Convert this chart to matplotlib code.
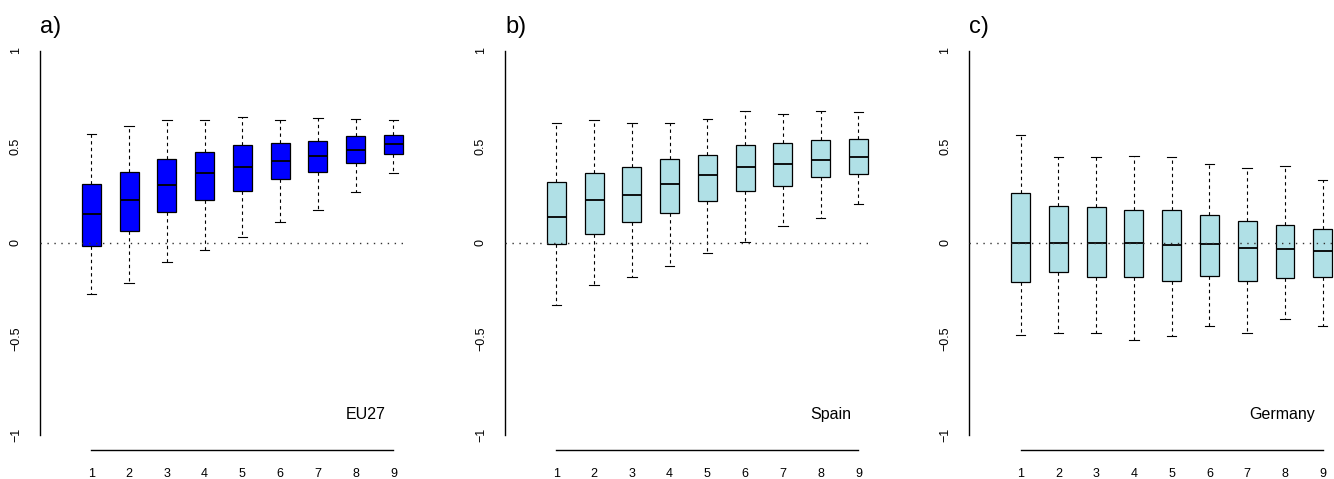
import numpy as np
import matplotlib
matplotlib.use('Agg')
import matplotlib.pyplot as plt

plt.rcParams['font.family'] = ['Liberation Sans', 'DejaVu Sans']

posicoes = [1, 2, 3, 4, 5, 6, 7, 8, 9]
rotulos_x = ['1', '2', '3', '4', '5', '6', '7', '8', '9']
ticks_y = [-1, -0.5, 0, 0.5, 1]
rotulos_y = ['\u22121', '\u22120.5', '0', '0.5', '1']

# a) EU27
eu_wlo = [-0.269, -0.212, -0.101, -0.038, 0.031, 0.106, 0.172, 0.262, 0.361]
eu_q1 = [-0.019, 0.059, 0.160, 0.224, 0.271, 0.333, 0.368, 0.415, 0.460]
eu_med = [0.147, 0.220, 0.302, 0.364, 0.394, 0.427, 0.451, 0.482, 0.512]
eu_q3 = [0.307, 0.369, 0.434, 0.472, 0.507, 0.517, 0.531, 0.553, 0.562]
eu_whi = [0.565, 0.609, 0.638, 0.638, 0.657, 0.637, 0.647, 0.644, 0.637]

# b) Spain
es_wlo = [-0.324, -0.222, -0.180, -0.123, -0.054, 0.005, 0.085, 0.130, 0.201]
es_q1 = [-0.005, 0.043, 0.106, 0.153, 0.219, 0.269, 0.293, 0.342, 0.356]
es_med = [0.134, 0.220, 0.250, 0.305, 0.354, 0.392, 0.409, 0.432, 0.446]
es_q3 = [0.317, 0.361, 0.392, 0.435, 0.458, 0.510, 0.517, 0.534, 0.539]
es_whi = [0.623, 0.638, 0.624, 0.623, 0.642, 0.687, 0.668, 0.687, 0.678]

# c) Germany
de_wlo = [-0.479, -0.468, -0.472, -0.508, -0.486, -0.434, -0.468, -0.399, -0.434]
de_q1 = [-0.206, -0.151, -0.179, -0.179, -0.198, -0.175, -0.201, -0.182, -0.180]
de_med = [0.000, 0.000, 0.000, 0.000, -0.012, -0.009, -0.029, -0.031, -0.045]
de_q3 = [0.258, 0.191, 0.187, 0.170, 0.172, 0.144, 0.114, 0.094, 0.069]
de_whi = [0.562, 0.444, 0.444, 0.449, 0.446, 0.408, 0.389, 0.401, 0.324]

paineis = [
    ('a)', 'EU27', '#0000FF', eu_wlo, eu_q1, eu_med, eu_q3, eu_whi),
    ('b)', 'Spain', '#B0E0E6', es_wlo, es_q1, es_med, es_q3, es_whi),
    ('c)', 'Germany', '#B0E0E6', de_wlo, de_q1, de_med, de_q3, de_whi),
]

W, H = 1334, 479
fig = plt.figure(figsize=(W / 100, H / 100), dpi=100)

esquerdas = [40, 505, 969.3]
largura = 367
topo = 35.3
base = 450

for esq, (letra, nome, cor, wlo, q1, med, q3, whi) in zip(esquerdas, paineis):
    ax = fig.add_axes([esq / W, (H - base) / H, largura / W, (base - topo) / H])
    ax.patch.set_alpha(0)
    stats = []
    for i in range(len(posicoes)):
        stats.append({'whislo': wlo[i], 'q1': q1[i], 'med': med[i],
                      'q3': q3[i], 'whishi': whi[i], 'fliers': []})
    ax.bxp(stats, positions=posicoes, widths=0.5, patch_artist=True,
           showfliers=False, capwidths=0.25,
           boxprops=dict(facecolor=cor, edgecolor='black', linewidth=0.9),
           medianprops=dict(color='black', linewidth=1.3),
           whiskerprops=dict(color='black', linewidth=0.8, linestyle=(0, (3, 3))),
           capprops=dict(color='black', linewidth=0.8))
    # linha do zero por cima das caixas
    ax.axhline(0, color='#333333', linewidth=1.0, linestyle=(0, (1, 4)), zorder=5)
    ax.set_xlim(-0.36, 9.36)
    ax.set_ylim(-1.08, 1.08)
    for s in ['top', 'right']:
        ax.spines[s].set_visible(False)
    ax.spines['left'].set_bounds(-1, 1)
    ax.spines['bottom'].set_bounds(1, 9)
    ax.spines['left'].set_linewidth(1.0)
    ax.spines['bottom'].set_linewidth(1.0)
    ax.set_xticks(posicoes)
    ax.set_xticklabels(rotulos_x, fontsize=9)
    ax.set_yticks(ticks_y)
    ax.set_yticklabels(rotulos_y, fontsize=9, rotation=90, va='center')
    ax.tick_params(axis='x', length=0, pad=13)
    ax.tick_params(axis='y', length=0, pad=13)
    ax.text(8.8, -0.893, nome, ha='right', va='center', fontsize=11.5)
    fig.text(esq / W, (H - 33) / H, letra, ha='left', va='baseline', fontsize=17)

fig.savefig('out.png', dpi=100)
